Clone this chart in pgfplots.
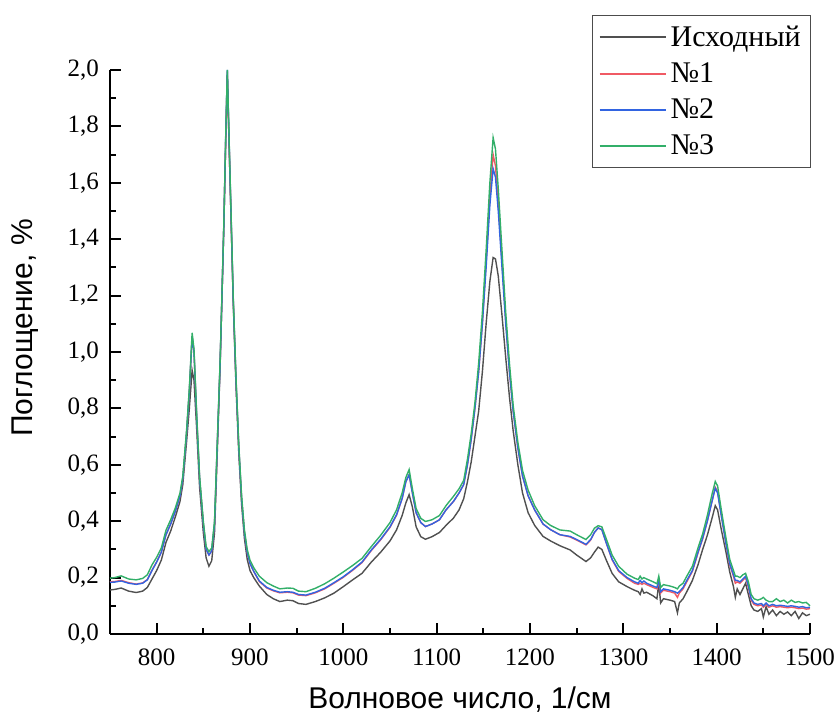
\documentclass[border=0pt]{standalone}
\usepackage{fontspec}
\setmainfont{Liberation Serif}
\newfontfamily\arialfont{Liberation Sans}
\usepackage{pgfplots}
\usepackage{pgfplotstable}
\pgfplotsset{compat=1.18}

\definecolor{cgray}{RGB}{80,80,80}
\definecolor{cred}{RGB}{240,90,100}
\definecolor{cblue}{RGB}{50,100,225}
\definecolor{cgreen}{RGB}{50,175,105}

% x  Исходный  №1  №2  №3
\pgfplotstableread{
x      g      r      b      gr
750    0.156  0.185  0.183  0.198
755    0.158  0.186  0.184  0.200
762    0.163  0.190  0.188  0.206
770    0.152  0.182  0.180  0.195
778    0.147  0.177  0.176  0.192
785    0.152  0.181  0.180  0.197
790    0.165  0.193  0.192  0.210
795    0.195  0.226  0.225  0.245
800    0.225  0.256  0.255  0.272
805    0.262  0.290  0.290  0.305
810    0.325  0.352  0.352  0.368
815    0.365  0.390  0.390  0.405
820    0.415  0.435  0.435  0.447
825    0.470  0.490  0.490  0.500
828    0.530  0.550  0.550  0.560
832    0.680  0.710  0.710  0.720
835    0.800  0.860  0.860  0.870
838    0.935  1.055  1.055  1.068
840    0.900  1.000  1.000  1.010
843    0.720  0.760  0.760  0.770
846    0.520  0.550  0.550  0.560
850    0.360  0.390  0.390  0.400
853    0.270  0.300  0.300  0.310
856    0.240  0.280  0.280  0.292
859    0.260  0.295  0.295  0.305
862    0.360  0.390  0.390  0.400
864    0.550  0.580  0.580  0.590
866    0.750  0.770  0.770  0.780
868    0.950  0.960  0.960  0.970
870    1.200  1.200  1.200  1.210
872    1.450  1.450  1.450  1.460
874    1.750  1.750  1.760  1.770
875.7  1.995  1.980  2.000  2.000
877.5  1.750  1.750  1.760  1.770
879.5  1.500  1.500  1.510  1.520
882    1.180  1.190  1.190  1.200
885    0.880  0.900  0.900  0.910
888    0.640  0.660  0.660  0.670
891    0.460  0.480  0.480  0.490
894    0.340  0.360  0.360  0.370
897    0.265  0.290  0.290  0.300
900    0.225  0.250  0.250  0.262
904    0.200  0.222  0.222  0.235
910    0.170  0.186  0.188  0.205
918    0.140  0.163  0.165  0.182
925    0.125  0.153  0.155  0.170
932    0.115  0.146  0.148  0.160
940    0.120  0.148  0.150  0.163
946    0.118  0.146  0.148  0.162
952    0.108  0.138  0.140  0.152
960    0.105  0.136  0.138  0.150
970    0.115  0.146  0.148  0.162
980    0.128  0.160  0.162  0.178
990    0.145  0.180  0.182  0.198
1000   0.168  0.201  0.203  0.220
1010   0.192  0.226  0.228  0.243
1020   0.215  0.253  0.255  0.268
1030   0.255  0.296  0.298  0.310
1040   0.290  0.334  0.336  0.350
1050   0.330  0.378  0.380  0.395
1057   0.369  0.421  0.423  0.440
1063   0.420  0.480  0.480  0.500
1067   0.465  0.540  0.540  0.555
1070.5 0.494  0.565  0.565  0.583
1074   0.450  0.500  0.500  0.515
1078   0.380  0.430  0.430  0.445
1083   0.345  0.395  0.395  0.410
1088   0.336  0.381  0.381  0.399
1095   0.345  0.390  0.390  0.405
1103   0.360  0.405  0.405  0.420
1110   0.385  0.440  0.440  0.455
1118   0.411  0.470  0.470  0.488
1124   0.440  0.500  0.500  0.515
1129   0.480  0.530  0.530  0.545
1133   0.540  0.600  0.600  0.620
1137   0.610  0.690  0.690  0.710
1141   0.700  0.800  0.800  0.820
1145   0.790  0.930  0.930  0.960
1149   0.930  1.100  1.100  1.140
1153   1.100  1.320  1.300  1.360
1157   1.250  1.550  1.520  1.600
1160.5 1.335  1.700  1.650  1.760
1163   1.330  1.660  1.620  1.720
1166   1.270  1.530  1.500  1.580
1170   1.130  1.320  1.300  1.360
1174   0.980  1.110  1.100  1.140
1178   0.840  0.930  0.930  0.960
1182   0.720  0.790  0.790  0.810
1187   0.600  0.660  0.660  0.680
1192   0.500  0.560  0.560  0.580
1198   0.430  0.490  0.490  0.510
1205   0.385  0.440  0.440  0.455
1214   0.346  0.390  0.390  0.405
1222   0.330  0.370  0.370  0.385
1232   0.313  0.352  0.352  0.369
1243   0.298  0.344  0.346  0.365
1250   0.280  0.333  0.335  0.352
1260   0.257  0.316  0.318  0.335
1265   0.270  0.333  0.335  0.352
1269   0.290  0.360  0.360  0.375
1273   0.308  0.376  0.376  0.384
1277   0.300  0.370  0.370  0.380
1282   0.260  0.320  0.320  0.335
1288   0.215  0.263  0.265  0.280
1295   0.185  0.222  0.225  0.240
1304   0.168  0.197  0.200  0.212
1312   0.155  0.180  0.185  0.198
1316   0.150  0.176  0.180  0.193
1318   0.140  0.180  0.190  0.205
1320   0.160  0.176  0.182  0.195
1322   0.145  0.180  0.188  0.200
1325   0.148  0.175  0.180  0.195
1332   0.135  0.165  0.170  0.185
1336   0.125  0.160  0.165  0.178
1338   0.180  0.185  0.190  0.205
1340   0.110  0.145  0.150  0.165
1343   0.125  0.155  0.160  0.175
1350   0.120  0.150  0.155  0.170
1355   0.115  0.145  0.150  0.165
1358   0.075  0.130  0.145  0.160
1360   0.110  0.145  0.150  0.170
1364   0.125  0.160  0.165  0.180
1368   0.150  0.185  0.190  0.205
1374   0.190  0.222  0.225  0.240
1380   0.245  0.287  0.290  0.305
1385   0.300  0.337  0.340  0.355
1390   0.350  0.400  0.400  0.420
1395   0.410  0.470  0.470  0.495
1398.5 0.455  0.520  0.517  0.541
1401   0.440  0.505  0.500  0.525
1405   0.370  0.420  0.420  0.440
1410   0.290  0.320  0.320  0.340
1414   0.220  0.245  0.250  0.265
1418   0.168  0.205  0.210  0.225
1420   0.130  0.180  0.190  0.205
1422   0.160  0.185  0.190  0.205
1425   0.140  0.180  0.185  0.200
1428   0.160  0.190  0.195  0.210
1431   0.180  0.200  0.205  0.215
1434   0.140  0.165  0.170  0.185
1437   0.100  0.120  0.125  0.140
1440   0.085  0.105  0.110  0.125
1444   0.080  0.100  0.105  0.120
1448   0.090  0.103  0.108  0.125
1450   0.060  0.095  0.100  0.130
1453   0.097  0.105  0.110  0.120
1456   0.070  0.095  0.100  0.115
1460   0.085  0.100  0.105  0.115
1464   0.065  0.095  0.100  0.125
1468   0.080  0.097  0.102  0.115
1472   0.070  0.095  0.100  0.120
1476   0.078  0.093  0.098  0.110
1480   0.065  0.095  0.100  0.120
1484   0.080  0.093  0.098  0.112
1488   0.055  0.090  0.095  0.115
1492   0.075  0.092  0.097  0.110
1496   0.065  0.088  0.093  0.112
1500   0.070  0.090  0.095  0.100
}\spectra

\begin{document}
\begin{tikzpicture}
\begin{axis}[
    scale only axis,
    width=350pt, height=282pt,
    xmin=750, xmax=1500,
    ymin=0, ymax=2.0,
    clip=false,
    axis x line*=bottom,
    axis y line*=left,
    axis line style={line width=1pt, -},
    every tick/.style={black, line width=1pt},
    tick align=inside,
    major tick length=5.5pt,
    minor tick length=3pt,
    xtick={800,900,1000,1100,1200,1300,1400,1500},
    minor x tick num=1,
    ytick={0,0.2,0.4,0.6,0.8,1.0,1.2,1.4,1.6,1.8,2.0},
    minor y tick num=1,
    tick label style={font=\fontsize{12.5}{14}\selectfont},
    /pgf/number format/assume math mode=true,
    xticklabel style={yshift=-4pt, /pgf/number format/1000 sep={}},
    yticklabel style={xshift=-2pt, /pgf/number format/.cd, fixed, fixed zerofill, precision=1, use comma, 1000 sep={}},
    xlabel={\arialfont Волновое число, 1/см},
    ylabel={\arialfont Поглощение, \%},
    xlabel style={at={(axis description cs:0.5,0)}, anchor=center, yshift=-33pt,
        font=\fontsize{15}{17}\selectfont},
    ylabel style={at={(axis description cs:-0.1214,0.5426)}, anchor=center, rotate=0,
        font=\fontsize{15}{17}\selectfont},
    legend style={at={(0.6886,1.0975)}, anchor=north west, draw=black!70, line width=0.6pt,
        font=\fontsize{15}{17}\selectfont, cells={anchor=west}, inner sep=3pt, row sep=2.6pt},
    legend image code/.code={\draw[#1, line width=1pt] (0pt,0pt) -- (33pt,0pt);},
]
\addplot[cgray, line width=0.7pt] table[x=x, y=g] {\spectra};
\addplot[cred, line width=0.7pt] table[x=x, y=r] {\spectra};
\addplot[cblue, line width=0.7pt] table[x=x, y=b] {\spectra};
\addplot[cgreen, line width=0.7pt] table[x=x, y=gr] {\spectra};
\legend{Исходный, №1, №2, №3}
\end{axis}
\pgfresetboundingbox
\path (-55pt,-40.5pt) rectangle (363.5pt,317pt);
\end{tikzpicture}
\end{document}
